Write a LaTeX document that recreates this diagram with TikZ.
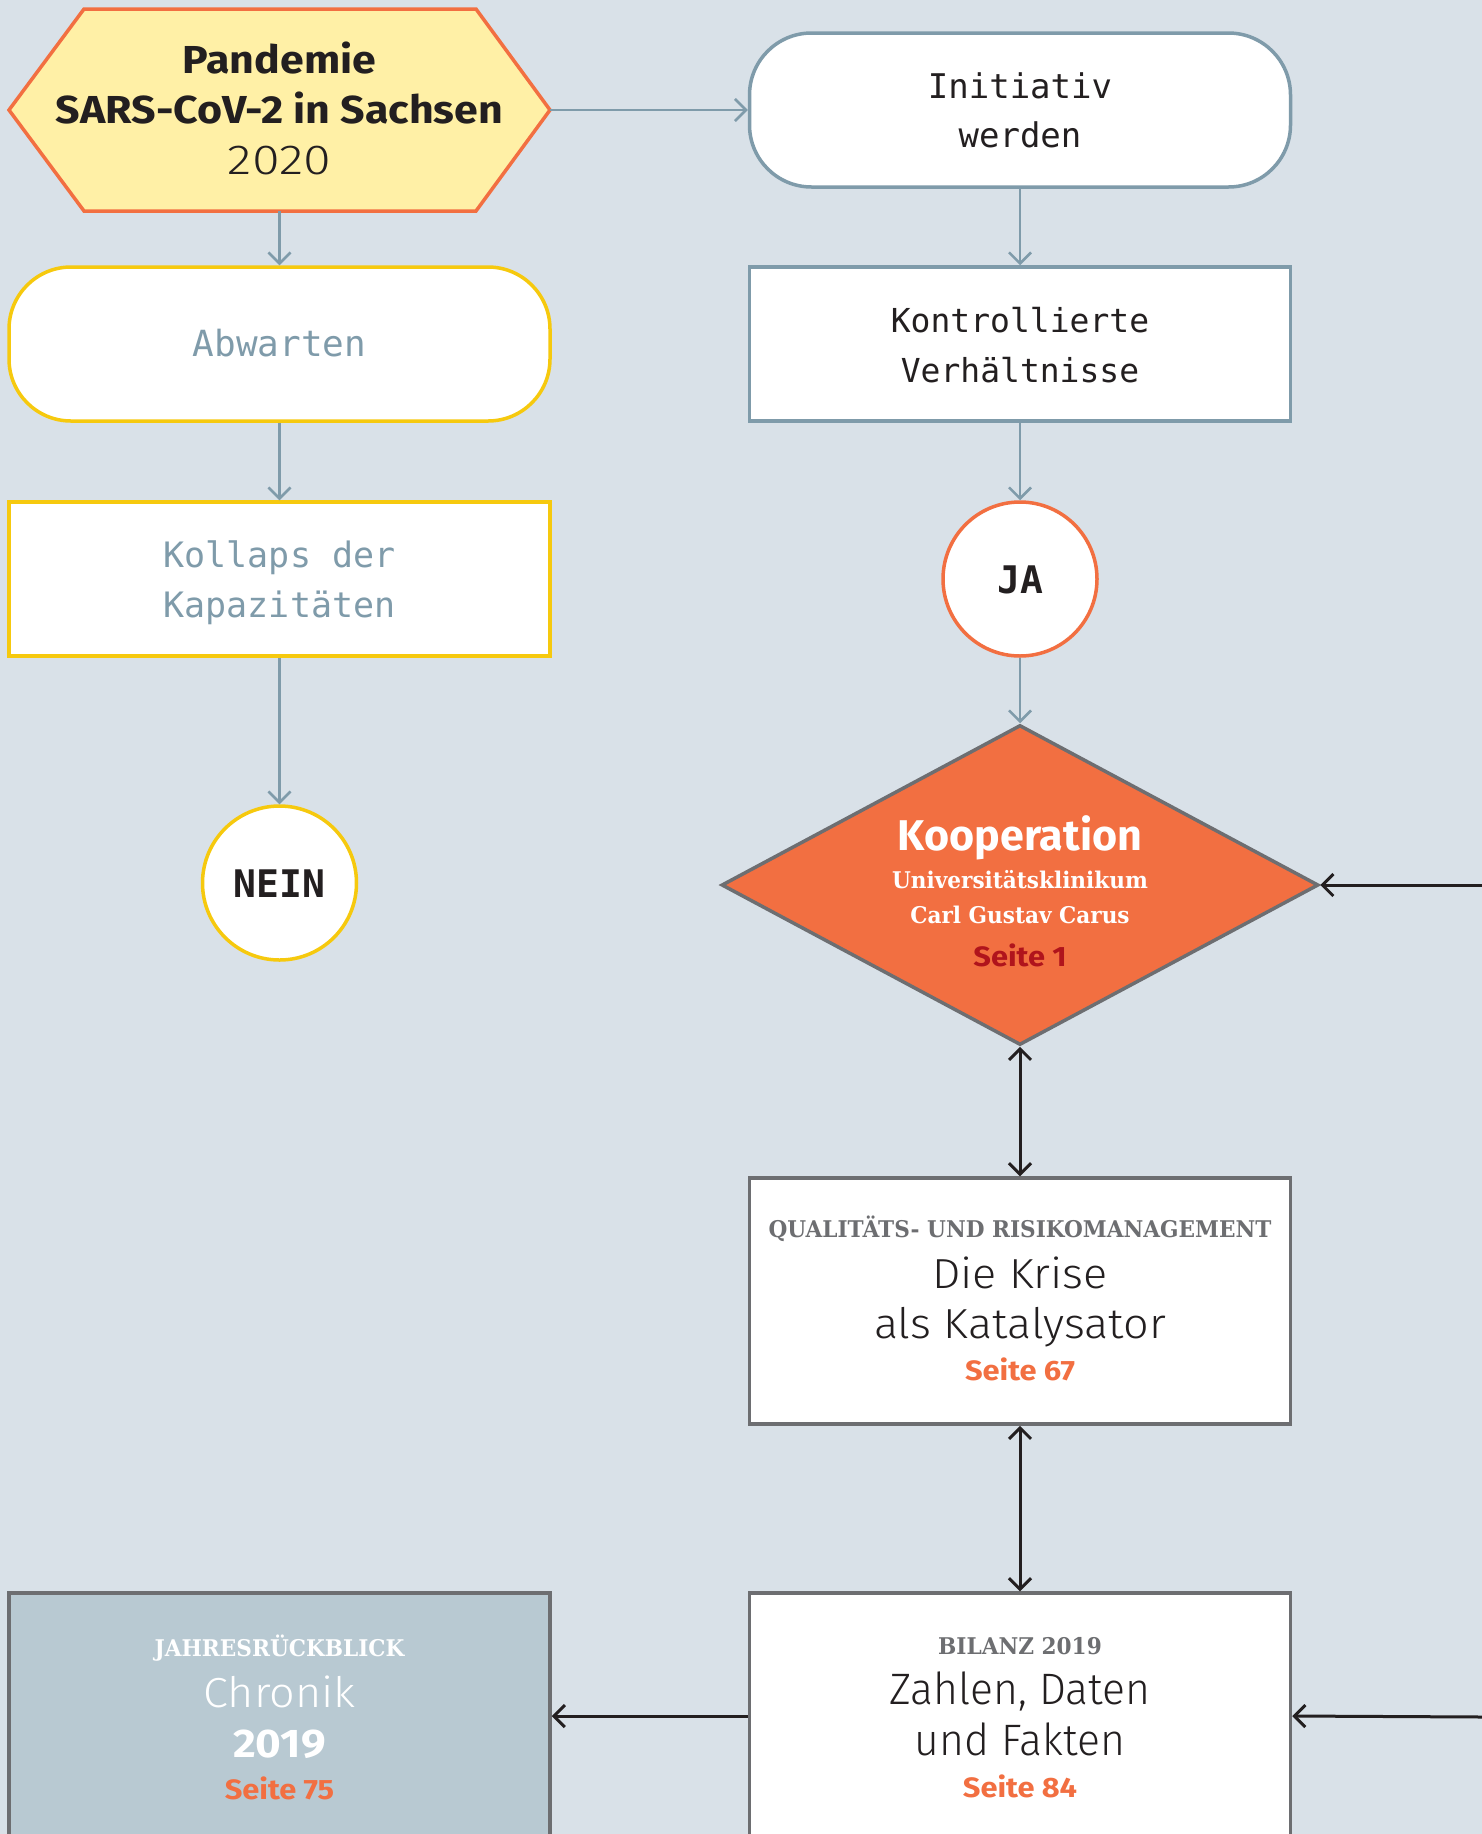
\documentclass[tikz,border=0pt]{standalone}
\usepackage{fontspec}
\setmainfont{Fira Sans}
\newfontfamily\psans{Fira Sans}[FakeStretch=1.1]
\newfontfamily\plight{Fira Sans Light}[FakeStretch=1.07]
\newfontfamily\pdig{Fira Sans Light}[FakeStretch=1.2]
\newfontfamily\pcond{Fira Sans Light}[FakeStretch=0.97]
\newfontfamily\slab{DejaVu Serif}[FakeStretch=0.94]
\newfontfamily\mono{DejaVu Sans Mono}
\usetikzlibrary{arrows.meta,shapes.geometric}
\definecolor{bgc}{HTML}{D9E1E8}
\definecolor{lineblue}{HTML}{7F9BAA}
\definecolor{hexfill}{HTML}{FFF0A6}
\definecolor{orangec}{HTML}{F26F41}
\definecolor{yel}{HTML}{F6C90E}
\definecolor{boxgray}{HTML}{6D6E71}
\definecolor{chronfill}{HTML}{B8C9D2}
\definecolor{ink}{HTML}{231F20}
\definecolor{darkred}{HTML}{B0141C}
\tikzset{
  txt/.style={anchor=base, inner sep=0pt, text=ink},
  tip/.tip={Straight Barb[length=11pt,width=22pt]},
  gline/.style={draw=lineblue, line width=2.6pt, -tip},
  kline/.style={draw=ink, line width=3pt, -tip},
  kboth/.style={draw=ink, line width=3pt, tip-tip},
  ybox/.style={rectangle, draw=yel, fill=white, line width=3.5pt, minimum width=541pt, minimum height=154pt, inner sep=0pt},
  yround/.style={ybox, rounded corners=62pt},
  bbox/.style={ybox, draw=lineblue},
  bround/.style={bbox, rounded corners=62pt},
  gbox/.style={rectangle, draw=boxgray, fill=white, line width=3.5pt, minimum width=541pt, minimum height=246pt, inner sep=0pt},
  circ/.style={circle, fill=white, line width=3.5pt, minimum size=154pt, inner sep=0pt},
  monotxt/.style={font=\mono\fontsize{#1}{#1}\selectfont},
  monob/.style={font=\mono\bfseries\fontsize{38}{38}\selectfont},
  hexb/.style={font=\psans\bfseries\fontsize{39}{39}\selectfont},
  lite/.style={font=\plight\fontsize{42}{42}\selectfont},
  head/.style={font=\slab\bfseries\fontsize{23}{23}\selectfont, text=boxgray},
  page/.style={font=\psans\bfseries\fontsize{28}{28}\selectfont, text=orangec},
}
\begin{document}
\begin{tikzpicture}[x=1pt,y=-1pt]
\useasboundingbox (0,0) rectangle (1482,1834);
\fill[bgc] (0,0) rectangle (1482,1834);
\begin{scope}
\clip (0,0) rectangle (1482,1834);
% hexagon
\filldraw[fill=hexfill, draw=orangec, line width=3.5pt] (9,110) -- (84,9) -- (476,9) -- (550,110) -- (476,211) -- (84,211) -- cycle;
\node[minimum width=541pt, minimum height=202pt, inner sep=0pt, outer sep=0pt] (pand) at (279.5,110) {};
\node[txt, hexb] (pandA) at (279.5,73) {Pandemie};
\node[txt, hexb] (pandB) at (279.5,123) {SARS-CoV-2 in Sachsen};
\node[txt, font=\pdig\fontsize{42}{42}\selectfont] (pandC) at (279.5,174) {2020};
% right column top
\node[bround] (init) at (1020,110) {};
\node[txt, monotxt=34] (initA) at (1020,98) {Initiativ};
\node[txt, monotxt=34] (initB) at (1020,147) {werden};
\node[bbox] (kontr) at (1020,344) {};
\node[txt, monotxt=33] (kontrA) at (1020,332) {Kontrollierte};
\node[txt, monotxt=33] (kontrB) at (1020,382) {Verhältnisse};
\node[circ, draw=orangec] (ja) at (1020,579) {};
\node[txt, monob] (jaT) at (1020,593) {JA};
% left column
\node[yround] (abw) at (279.5,344) {};
\node[txt, monotxt=36, text=lineblue] (abwT) at (279.5,356) {Abwarten};
\node[ybox] (koll) at (279.5,579) {};
\node[txt, monotxt=35, text=lineblue] (kollA) at (279.5,567) {Kollaps der};
\node[txt, monotxt=35, text=lineblue] (kollB) at (279.5,617) {Kapazitäten};
\node[circ, draw=yel] (nein) at (279.5,883) {};
\node[txt, monob] (neinT) at (279.5,897) {NEIN};
% diamond
\node[diamond, fill=orangec, draw=boxgray, line width=3.5pt, minimum width=597pt, minimum height=320pt, inner sep=0pt, aspect=1.866] (koop) at (1020,885) {};
\node[txt, text=white, font=\bfseries\fontsize{43}{43}\selectfont] (koopA) at (1020,850) {Kooperation};
\node[txt, text=white, font=\slab\bfseries\fontsize{23}{23}\selectfont] (koopB) at (1020,888) {Universitätsklinikum};
\node[txt, text=white, font=\slab\bfseries\fontsize{23}{23}\selectfont] (koopC) at (1020,923) {Carl Gustav Carus};
\node[txt, page, text=darkred] (koopD) at (1020,966) {Seite 1};
% Qualitaet
\node[gbox] (qual) at (1020,1301) {};
\node[txt, head] (qualA) at (1020,1237) {QUALITÄTS- UND RISIKOMANAGEMENT};
\node[txt, lite] (qualB) at (1020,1288) {Die Krise};
\node[txt, lite] (qualC) at (1020,1338) {als Katalysator};
\node[txt, page] (qualD) at (1020,1380) {Seite 67};
% Bilanz
\node[gbox] (bil) at (1020,1716) {};
\node[txt, head] (bilA) at (1020,1654) {BILANZ 2019};
\node[txt, font=\pcond\fontsize{44}{44}\selectfont] (bilB) at (1020,1704) {Zahlen, Daten};
\node[txt, font=\pcond\fontsize{44}{44}\selectfont] (bilC) at (1020,1755) {und Fakten};
\node[txt, page] (bilD) at (1020,1797) {Seite 84};
% Chronik
\node[gbox, fill=chronfill] (chr) at (279.5,1716) {};
\node[txt, head, text=white] (chrA) at (279.5,1656) {JAHRESRÜCKBLICK};
\node[txt, lite, text=white] (chrB) at (279.5,1707) {Chronik};
\node[txt, text=white, font=\psans\bfseries\fontsize{40}{40}\selectfont] (chrC) at (279.5,1757) {2019};
\node[txt, page] (chrD) at (279.5,1799) {Seite 75};
% edge coordinates
\coordinate (edgeA) at (1482,885);
\coordinate (edgeB) at (1482,1717);
% connectors
\draw[gline] (pand.east) -- (init.west);
\draw[gline] (pand.south) -- (abw.north);
\draw[gline] (abw.south) -- (koll.north);
\draw[gline] (koll.south) -- (nein.north);
\draw[gline] (init.south) -- (kontr.north);
\draw[gline] (kontr.south) -- (ja.north);
\draw[gline] (ja.south) -- (koop.north);
\draw[kline] (edgeA) -- (koop.east);
\draw[kboth] (koop.south) -- (qual.north);
\draw[kboth] (qual.south) -- (bil.north);
\draw[kline] (bil.west) -- (chr.east);
\draw[kline] (edgeB) -- (bil.east);
\end{scope}
\end{tikzpicture}
\end{document}
